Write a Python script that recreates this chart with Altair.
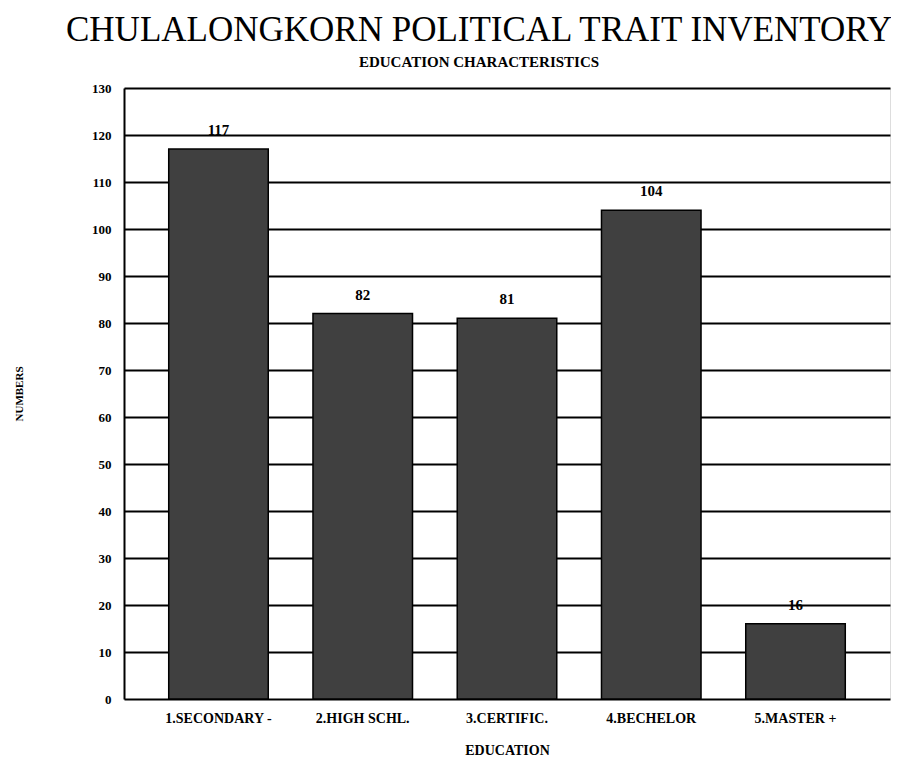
import altair as alt
import pandas as pd

categories = ["1.SECONDARY -", "2.HIGH SCHL.", "3.CERTIFIC.", "4.BECHELOR", "5.MASTER +"]
values = [117, 82, 81, 104, 16]
y_ticks = list(range(0, 131, 10))

df = pd.DataFrame({"education": categories, "numbers": values})

FONT = "Liberation Serif"

x_enc = alt.X(
    "education:N",
    sort=categories,
    title="EDUCATION",
    scale=alt.Scale(paddingInner=0.31, paddingOuter=0.31),
    axis=alt.Axis(
        labelAngle=0,
        labelFont=FONT,
        labelFontWeight="bold",
        labelFontSize=14,
        labelColor="black",
        labelPadding=12,
        ticks=False,
        domain=False,
        titleFont=FONT,
        titleFontWeight="bold",
        titleFontSize=14,
        titleColor="black",
        titlePadding=18,
    ),
)

y_enc = alt.Y(
    "numbers:Q",
    title="NUMBERS",
    scale=alt.Scale(domain=[0, 130], nice=False),
    axis=alt.Axis(
        values=y_ticks,
        labelFont=FONT,
        labelFontWeight="bold",
        labelFontSize=13,
        labelColor="black",
        labelPadding=13,
        ticks=False,
        domain=True,
        domainColor="black",
        domainWidth=2,
        grid=True,
        gridColor="black",
        gridWidth=2,
        gridOpacity=1,
        titleFont=FONT,
        titleFontWeight="bold",
        titleFontSize=11,
        titleColor="black",
        titlePadding=67,
    ),
)

bars = alt.Chart(df).mark_bar(
    color="#404040", stroke="black", strokeWidth=1.5
).encode(x=x_enc, y=y_enc)

labels = alt.Chart(df).mark_text(
    baseline="bottom", dy=-11, font=FONT, fontWeight="bold", fontSize=15, color="black"
).encode(
    x=alt.X("education:N", sort=categories),
    y=alt.Y("numbers:Q"),
    text=alt.Text("numbers:Q"),
)

chart = (
    alt.layer(bars, labels)
    .properties(
        width=883,
        height=749,
        autosize=alt.AutoSizeParams(type="fit", contains="padding"),
        padding={"left": 5, "right": 1, "top": 5, "bottom": 0},
        title=alt.TitleParams(
            text="CHULALONGKORN POLITICAL TRAIT INVENTORY",
            subtitle="EDUCATION CHARACTERISTICS",
            font=FONT,
            fontSize=35,
            fontWeight="normal",
            color="black",
            subtitleFont=FONT,
            subtitleFontSize=15,
            subtitleFontWeight="bold",
            subtitleColor="black",
            subtitlePadding=7,
            anchor="middle",
            dx=-28,
            offset=12,
        ),
    )
    .configure_view(stroke="black", strokeWidth=2)
    .configure(background="white")
)

chart.save("out.html", embed_options={"renderer": "svg", "actions": False})
